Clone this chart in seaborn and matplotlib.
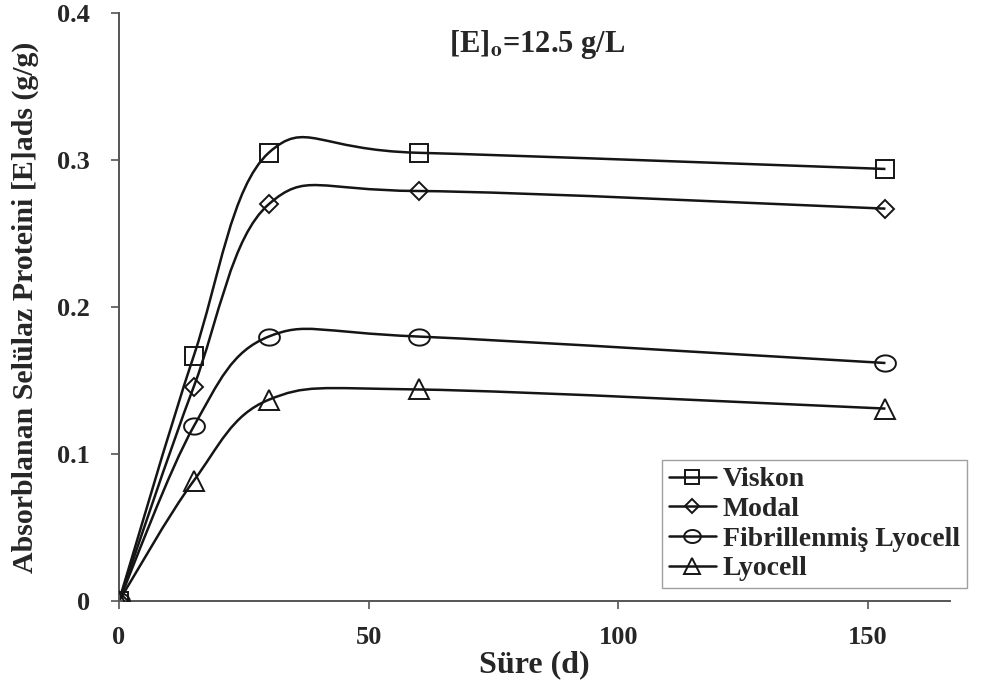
import numpy as np
import pandas as pd
import seaborn as sns
import matplotlib
matplotlib.use("Agg")
import matplotlib.pyplot as plt
from matplotlib.path import Path
from matplotlib.patches import PathPatch
from matplotlib.lines import Line2D

# ---- data ----
time_d = [0, 15, 30, 60, 153.5]
viskon = [0.0, 0.167, 0.305, 0.305, 0.294]
modal = [0.0, 0.146, 0.270, 0.279, 0.267]
fib_lyocell = [0.0, 0.119, 0.180, 0.180, 0.162]
lyocell = [0.0, 0.082, 0.137, 0.144, 0.131]
series_names = ["Viskon", "Modal", "Fibrillenmiş Lyocell", "Lyocell"]
x_ticks = [0, 50, 100, 150]
y_ticks = [0, 0.1, 0.2, 0.3, 0.4]
y_tick_labels = ["0", "0.1", "0.2", "0.3", "0.4"]

sns.set_theme(style="white")
plt.rcParams["font.family"] = ["Liberation Serif", "DejaVu Serif"]
plt.rcParams["font.weight"] = "bold"
plt.rcParams["mathtext.fontset"] = "stix"

ell = Path(np.column_stack([np.cos(np.linspace(0, 2*np.pi, 60)),
                            0.78*np.sin(np.linspace(0, 2*np.pi, 60))]), closed=True)
markers = {"Viskon": ("s", 13), "Modal": ("D", 9.5), "Fibrillenmiş Lyocell": (ell, 15), "Lyocell": ("^", 14)}
values = {"Viskon": viskon, "Modal": modal, "Fibrillenmiş Lyocell": fib_lyocell, "Lyocell": lyocell}

df = pd.concat([pd.DataFrame({"t": time_d, "v": values[n], "s": n}) for n in series_names])

fig = plt.figure(figsize=(9.91, 6.91), dpi=100)
ax = fig.add_axes([0.120, 0.130, 0.839, 0.851])

col = "#151515"

def smooth_path(xs, ys):
    pts = np.column_stack([xs, ys]).astype(float)
    P = np.vstack([pts[0], pts, pts[-1]])
    verts = [pts[0]]
    codes = [Path.MOVETO]
    for i in range(1, len(P) - 2):
        p0, p1, p2, p3 = P[i-1], P[i], P[i+1], P[i+2]
        c1 = p1 + (p2 - p0) / 6.0
        c2 = p2 - (p3 - p1) / 6.0
        verts += [c1, c2, p2]
        codes += [Path.CURVE4] * 3
    return Path(verts, codes)

for n in series_names:
    ax.add_patch(PathPatch(smooth_path(time_d, values[n]), facecolor="none",
                           edgecolor=col, lw=1.8, zorder=2))
    m, ms = markers[n]
    sub = df[df["s"] == n]
    sns.lineplot(data=sub, x="t", y="v", ax=ax, linestyle="none", marker=m,
                 markersize=ms, markerfacecolor="none", markeredgecolor=col,
                 markeredgewidth=1.4, color=col, legend=False, zorder=3)

ax.set_xlim(0, 166.5)
ax.set_ylim(0, 0.4)
ax.set_xticks(x_ticks)
ax.set_yticks(y_ticks)
ax.set_yticklabels(y_tick_labels)
for s in ["top", "right"]:
    ax.spines[s].set_visible(False)
for s in ["left", "bottom"]:
    ax.spines[s].set_color("#555555")
    ax.spines[s].set_linewidth(1.4)
ax.tick_params(axis="both", direction="out", length=6, width=1.2, color="#555555",
               labelsize=19, bottom=True, left=True)
ax.tick_params(axis="y", pad=15)
ax.tick_params(axis="x", pad=12)
for lab in ax.get_xticklabels() + ax.get_yticklabels():
    lab.set_fontweight("bold")

ax.set_xlabel("Süre (d)", fontsize=23, fontweight="bold", labelpad=1)
ax.set_ylabel("Absorblanan Selülaz Proteini [E]ads (g/g)", fontsize=21.5,
              fontweight="bold", labelpad=13)

ax.text(0.503, 0.946, r"[E]$_\mathbf{o}$=12.5 g/L", transform=ax.transAxes,
        fontsize=22, fontweight="bold", ha="center", va="center")

handles = [Line2D([0], [0], color=col, lw=1.8, marker=markers[n][0],
                  markersize=markers[n][1] * 0.8, markerfacecolor="none",
                  markeredgecolor=col, markeredgewidth=1.4) for n in series_names]
leg = ax.legend(handles, series_names, loc="lower left", bbox_to_anchor=(0.653, 0.022),
                frameon=True, fancybox=False, handlelength=1.7,
                labelspacing=0.15, handletextpad=0.25, borderpad=0.25, borderaxespad=0,
                prop={"weight": "bold", "size": 20, "family": ["Liberation Serif"]})
leg.get_frame().set_edgecolor("#888888")
leg.get_frame().set_linewidth(1.0)

fig.savefig("out.png", dpi=100)
